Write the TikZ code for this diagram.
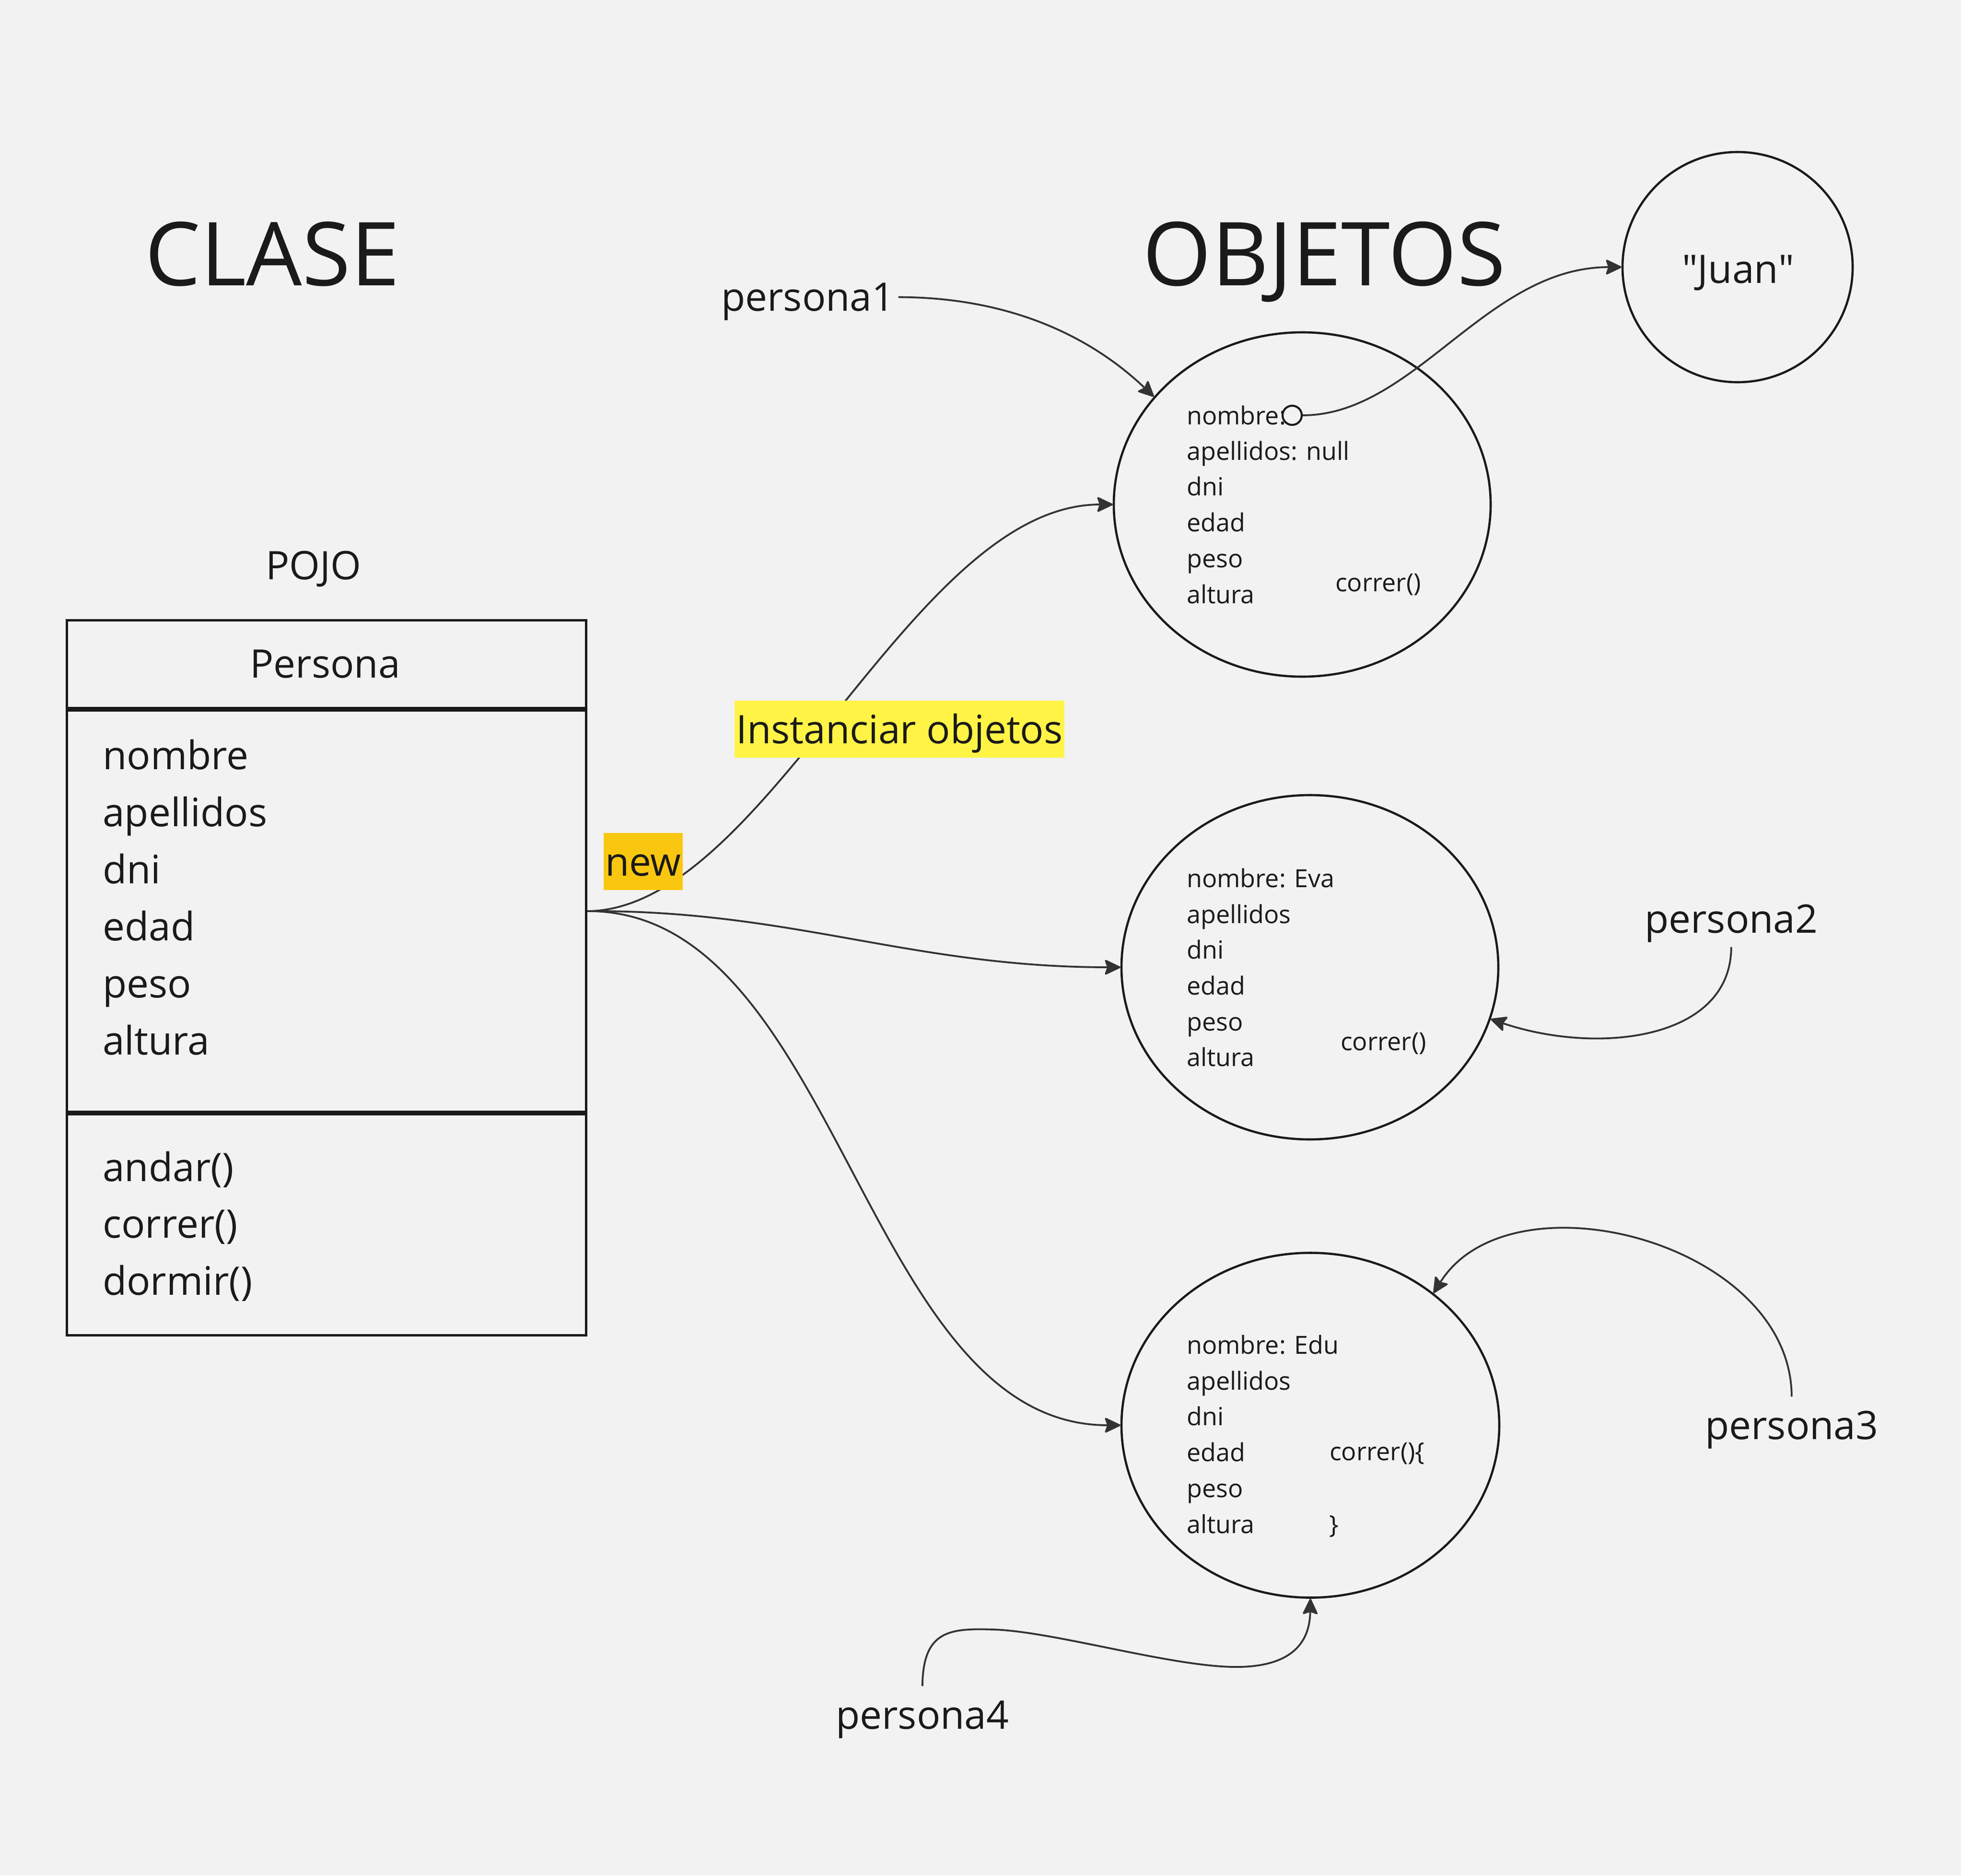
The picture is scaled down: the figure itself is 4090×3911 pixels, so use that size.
\documentclass[tikz,border=0pt]{standalone}
\usepackage{fontspec}
\setmainfont{Open Sans}
\usetikzlibrary{shapes.geometric,arrows.meta,calc}
\definecolor{bg}{HTML}{F2F2F2}
\definecolor{ink}{HTML}{1A1A1A}
\definecolor{conncol}{HTML}{333333}
\definecolor{ylw}{HTML}{FFF446}
\definecolor{org}{HTML}{FAC710}
\begin{document}
\begin{tikzpicture}[x=1pt,y=-1pt,
  txt/.style={inner sep=0pt, text=ink, font=\fontsize{82}{118}\selectfont},
  titletxt/.style={inner sep=0pt, text=ink, font=\fontsize{184}{220}\selectfont},
  smalltxt/.style={inner sep=0pt, text=ink, font=\fontsize{52}{75}\selectfont},
  compart/.style={draw=ink, line width=5pt, inner sep=0pt, anchor=north west, minimum width=1083pt},
  obj/.style={ellipse, draw=ink, line width=4.6pt, inner sep=0pt},
  conn/.style={draw=conncol, line width=3.8pt, -{Stealth[length=36pt,width=34pt,inset=6pt,round]}},
  hl/.style={txt, inner xsep=3pt, inner ysep=0pt, text height=89pt, text depth=30pt, anchor=base west}
]
\fill[bg] (0,0) rectangle (4090,3911);
\useasboundingbox (0,0) rectangle (4090,3911);

% titles
\node[titletxt, anchor=base] (clase) at (568,595) {CLASE};
\node[titletxt, anchor=base] (objetos) at (2762,595) {OBJETOS};

% class box
\node[txt, anchor=base] (pojo) at (654,1208) {POJO};
\node[compart, minimum height=183pt] (head) at (137,1291) {};
\node[compart, minimum height=837pt] (attr) at (137,1479) {};
\node[compart, minimum height=461pt] (meth) at (137,2321) {};
\node[txt, anchor=base] (persona) at (678,1413) {Persona};
\node[txt, anchor=base west] (a1) at (214,1604) {nombre};
\node[txt, anchor=base west] (a2) at (214,1723) {apellidos};
\node[txt, anchor=base west] (a3) at (214,1842) {dni};
\node[txt, anchor=base west] (a4) at (214,1961) {edad};
\node[txt, anchor=base west] (a5) at (214,2080) {peso};
\node[txt, anchor=base west] (a6) at (214,2199) {altura};
\node[txt, anchor=base west] (m1) at (214,2463) {andar()};
\node[txt, anchor=base west] (m2) at (214,2581) {correr()};
\node[txt, anchor=base west] (m3) at (214,2700) {dormir()};

% objects
\node[obj, minimum width=786pt, minimum height=718pt] (e1) at (2716,1052) {};
\node[obj, minimum width=786pt, minimum height=718pt] (e2) at (2732,2017) {};
\node[obj, minimum width=788pt, minimum height=719pt] (e3) at (2733,2972) {};
\node[obj, circle, minimum size=480pt] (juan) at (3624,557) {};
\node[txt, anchor=base] (juantxt) at (3625,590) {\textquotedbl Juan\textquotedbl};

\node[smalltxt, anchor=base west] (o1a) at (2475,885) {nombre:};
\node[smalltxt, anchor=base west] (o1b) at (2475,959) {apellidos: null};
\node[smalltxt, anchor=base west] (o1c) at (2475,1033) {dni};
\node[smalltxt, anchor=base west] (o1d) at (2475,1108) {edad};
\node[smalltxt, anchor=base west] (o1e) at (2475,1183) {peso};
\node[smalltxt, anchor=base west] (o1f) at (2475,1258) {altura};
\node[smalltxt, anchor=base west] (o1m) at (2785,1233) {correr()};

\node[smalltxt, anchor=base west] (o2a) at (2475,1850) {nombre: Eva};
\node[smalltxt, anchor=base west] (o2b) at (2475,1925) {apellidos};
\node[smalltxt, anchor=base west] (o2c) at (2475,1999) {dni};
\node[smalltxt, anchor=base west] (o2d) at (2475,2074) {edad};
\node[smalltxt, anchor=base west] (o2e) at (2475,2149) {peso};
\node[smalltxt, anchor=base west] (o2f) at (2475,2223) {altura};
\node[smalltxt, anchor=base west] (o2m) at (2796,2190) {correr()};

\node[smalltxt, anchor=base west] (o3a) at (2475,2823) {nombre: Edu};
\node[smalltxt, anchor=base west] (o3b) at (2475,2898) {apellidos};
\node[smalltxt, anchor=base west] (o3c) at (2475,2972) {dni};
\node[smalltxt, anchor=base west] (o3d) at (2475,3047) {edad};
\node[smalltxt, anchor=base west] (o3e) at (2475,3122) {peso};
\node[smalltxt, anchor=base west] (o3f) at (2475,3197) {altura};
\node[smalltxt, anchor=base west] (o3m) at (2773,3045) {correr()\{};
\node[smalltxt, anchor=base west] (o3n) at (2772,3197) {\}};

\node[circle, draw=ink, fill=bg, line width=4.2pt, minimum size=40pt, inner sep=0pt] (dot) at (2695,866) {};

% reference labels
\node[txt, anchor=base west] (p1) at (1504,648) {persona1};
\node[txt, anchor=base west] (p2) at (3430,1945) {persona2};
\node[txt, anchor=base west] (p3) at (3556,3001) {persona3};
\node[txt, anchor=base west] (p4) at (1743,3605) {persona4};

% connectors
\draw[conn] (attr.east) .. controls (1600,1897) and (1900,1052) .. (e1.west);
\draw[conn] (attr.east) .. controls (1650,1897) and (1900,2017) .. (e2.west);
\draw[conn] (attr.east) .. controls (1750,1897) and (1800,2972) .. (e3.west);
\draw[conn] (dot.east) .. controls (2950,866) and (3100,557) .. (juan.west);
\draw[conn] ($(p1.east)+(8,-9)$) .. controls (2150,620) and (2310,735) .. (e1.144);
\draw[conn] ($(p2.south)+(0,10)$) .. controls (3610,2170) and (3330,2200) .. (e2.344);
\draw[conn] ($(p3.north)+(0,-29)$) .. controls (3736,2590) and (3150,2440) .. (e3.47);
\draw[conn] ($(p4.north)+(0,-30)$) .. controls (1925,3400) and (1980,3395) .. (2072,3398)
   .. controls (2200,3402) and (2450,3478) .. (2584,3476)
   .. controls (2700,3474) and (2732,3420) .. (e3.south);

% highlighted labels
\node[hl, fill=ylw] (inst) at (1532,1550) {Instanciar objetos};
\node[hl, fill=org] (new) at (1259,1826) {new};
\end{tikzpicture}
\end{document}
